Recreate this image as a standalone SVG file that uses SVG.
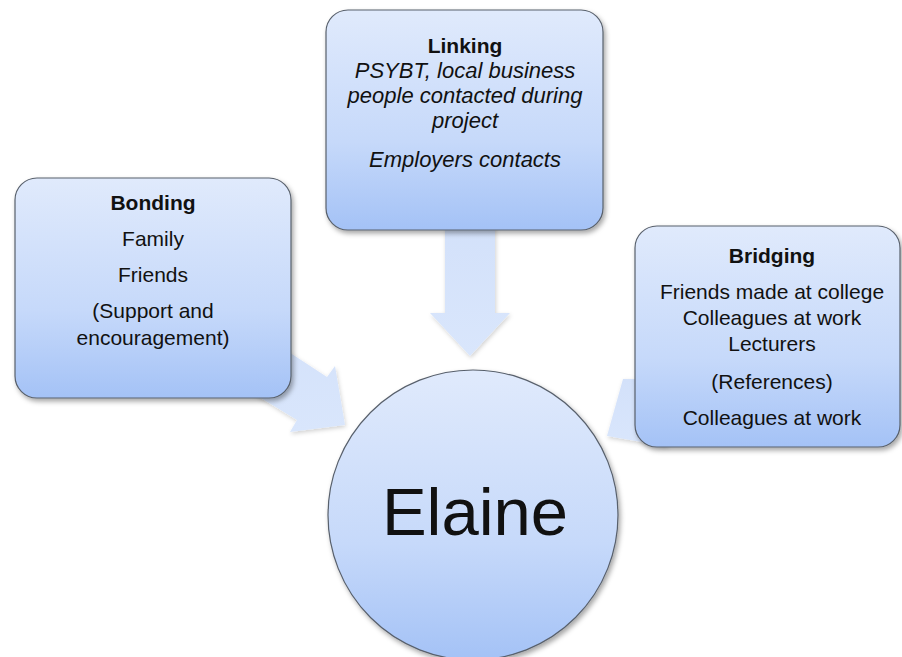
<svg xmlns="http://www.w3.org/2000/svg" width="902" height="657" viewBox="0 0 902 657">
<defs>
<linearGradient id="boxg" x1="0" y1="0" x2="0" y2="1">
<stop offset="0" stop-color="#e0eafc"/>
<stop offset="0.6" stop-color="#c6d9fa"/>
<stop offset="1" stop-color="#a4c2f6"/>
</linearGradient>
<linearGradient id="arrg" x1="0" y1="0" x2="0" y2="1">
<stop offset="0" stop-color="#d3e1fa"/>
<stop offset="1" stop-color="#d9e6fc"/>
</linearGradient>
<filter id="sh" x="-10%" y="-10%" width="125%" height="125%">
<feDropShadow dx="2" dy="3" stdDeviation="2.5" flood-color="#000" flood-opacity="0.35"/>
</filter>
<filter id="ash" x="-10%" y="-10%" width="125%" height="125%">
<feDropShadow dx="1" dy="2" stdDeviation="2" flood-color="#000" flood-opacity="0.18"/>
</filter>
</defs>
<style>
.box{fill:url(#boxg);stroke:#58606c;stroke-width:1.2;filter:url(#sh)}
.arr{fill:url(#arrg);stroke:none;filter:url(#ash)}
text{font-family:"Liberation Sans",Arial,sans-serif;font-size:21px;fill:#111;text-anchor:middle}
.b{font-weight:bold}
.i{font-style:italic;font-size:22px}
.big{font-size:67px}
</style>
<rect width="902" height="657" fill="#fff"/>
<g id="connectors">
<polygon class="arr" points="445,220 495,220 495,313 510,313 470,356 430,313 445,313"/>
<polygon class="arr" points="240,320 327,377 335,366 345,425 290,432 297,420 215,370"/>
<polygon class="arr" points="720,380 623,379 607,436 665,446 700,420"/>
</g>
<g id="bonding">
<rect class="box" x="15" y="178" width="276" height="220" rx="22"/>
<text class="b" x="153" y="210">Bonding</text>
<text x="153" y="246">Family</text>
<text x="153" y="282">Friends</text>
<text x="153" y="318">(Support and</text>
<text x="153" y="345">encouragement)</text>
</g>
<g id="linking">
<rect class="box" x="326" y="10" width="277" height="220" rx="22"/>
<text class="b" x="465" y="53">Linking</text>
<text class="i" x="465" y="78">PSYBT, local business</text>
<text class="i" x="465" y="103">people contacted during</text>
<text class="i" x="465" y="128">project</text>
<text class="i" x="465" y="167">Employers contacts</text>
</g>
<g id="bridging">
<rect class="box" x="635" y="226" width="265" height="221" rx="22"/>
<text class="b" x="772" y="263">Bridging</text>
<text x="772" y="299">Friends made at college</text>
<text x="772" y="325">Colleagues at work</text>
<text x="772" y="351">Lecturers</text>
<text x="772" y="389">(References)</text>
<text x="772" y="425">Colleagues at work</text>
</g>
<g id="elaine">
<circle class="box" cx="473" cy="515" r="145"/>
<text class="big" x="475" y="535">Elaine</text>
</g>
</svg>
